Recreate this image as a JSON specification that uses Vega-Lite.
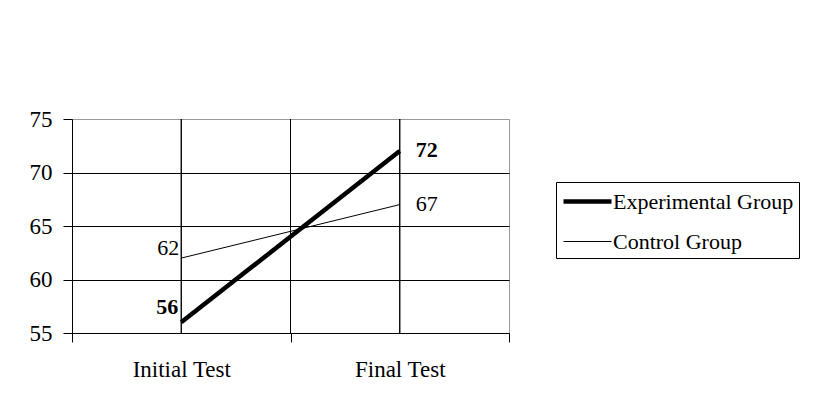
{
  "$schema": "https://vega.github.io/schema/vega-lite/v6.json",
  "width": 437,
  "height": 214,
  "autosize": {"type": "none"},
  "padding": {"left": 72, "top": 119, "right": 304, "bottom": 79},
  "background": "white",
  "config": {
    "view": {"stroke": "#999999", "strokeWidth": 1},
    "font": "Liberation Serif",
    "text": {"font": "Liberation Serif", "fontSize": 22, "color": "black"}
  },
  "data": {
    "values": [
      {"test": "Initial Test", "group": "Experimental Group", "score": 56},
      {"test": "Final Test", "group": "Experimental Group", "score": 72},
      {"test": "Initial Test", "group": "Control Group", "score": 62},
      {"test": "Final Test", "group": "Control Group", "score": 67}
    ]
  },
  "encoding": {
    "x": {
      "field": "test",
      "type": "nominal",
      "sort": ["Initial Test", "Final Test"],
      "scale": {"type": "band", "paddingInner": 0, "paddingOuter": 0},
      "axis": {
        "title": null,
        "labelAngle": 0,
        "tickBand": "extent",
        "grid": false,
        "domainColor": "black",
        "tickColor": "black",
        "tickSize": 9,
        "labelPadding": 16,
        "labelFont": "Liberation Serif",
        "labelFontSize": 23,
        "labelColor": "black",
        "labelBaseline": "top"
      }
    },
    "y": {
      "field": "score",
      "type": "quantitative",
      "scale": {"domain": [55, 75], "nice": false, "zero": false},
      "axis": {
        "title": null,
        "values": [55, 60, 65, 70, 75],
        "grid": true,
        "gridColor": {"condition": {"test": "datum.value == 75", "value": "#999999"}, "value": "black"},
        "gridOpacity": 1,
        "domainColor": "black",
        "tickColor": "black",
        "tickSize": 9,
        "labelPadding": 11,
        "labelFont": "Liberation Serif",
        "labelFontSize": 23,
        "labelColor": "black"
      }
    }
  },
  "layer": [
    {
      "mark": {"type": "rule", "color": "black", "strokeWidth": 1},
      "encoding": {
        "y": null
      }
    },
    {
      "mark": {"type": "rule", "color": "black", "strokeWidth": 1},
      "encoding": {
        "x": {"datum": "Final Test", "type": "nominal", "bandPosition": 0},
        "y": null
      }
    },
    {
      "mark": {"type": "line", "color": "black", "strokeCap": "butt"},
      "encoding": {
        "detail": {"field": "group"},
        "strokeWidth": {
          "field": "group",
          "type": "nominal",
          "scale": {"domain": ["Experimental Group", "Control Group"], "range": [4.5, 1]},
          "legend": {
            "title": null,
            "orient": "none",
            "legendX": 484,
            "legendY": 63,
            "strokeColor": "black",
            "fillColor": "white",
            "padding": 5,
            "symbolType": "M-1,0H3",
            "symbolSize": 576,
            "symbolStrokeColor": "black",
            "labelFont": "Liberation Serif",
            "labelFontSize": 22,
            "labelColor": "black",
            "labelLimit": 400,
            "labelOffset": 23,
            "rowPadding": 16
          }
        }
      }
    },
    {
      "transform": [{"filter": "datum.test == 'Initial Test' && datum.group == 'Experimental Group'"}],
      "mark": {"type": "text", "align": "right", "baseline": "alphabetic", "dx": -3, "dy": -8, "fontWeight": "bold"},
      "encoding": {"text": {"field": "score"}}
    },
    {
      "transform": [{"filter": "datum.test == 'Initial Test' && datum.group == 'Control Group'"}],
      "mark": {"type": "text", "align": "right", "baseline": "alphabetic", "dx": -2, "dy": -3},
      "encoding": {"text": {"field": "score"}}
    },
    {
      "transform": [{"filter": "datum.test == 'Final Test' && datum.group == 'Experimental Group'"}],
      "mark": {"type": "text", "align": "left", "baseline": "middle", "dx": 16, "dy": -1, "fontWeight": "bold"},
      "encoding": {"text": {"field": "score"}}
    },
    {
      "transform": [{"filter": "datum.test == 'Final Test' && datum.group == 'Control Group'"}],
      "mark": {"type": "text", "align": "left", "baseline": "middle", "dx": 16, "dy": -1},
      "encoding": {"text": {"field": "score"}}
    }
  ]
}
